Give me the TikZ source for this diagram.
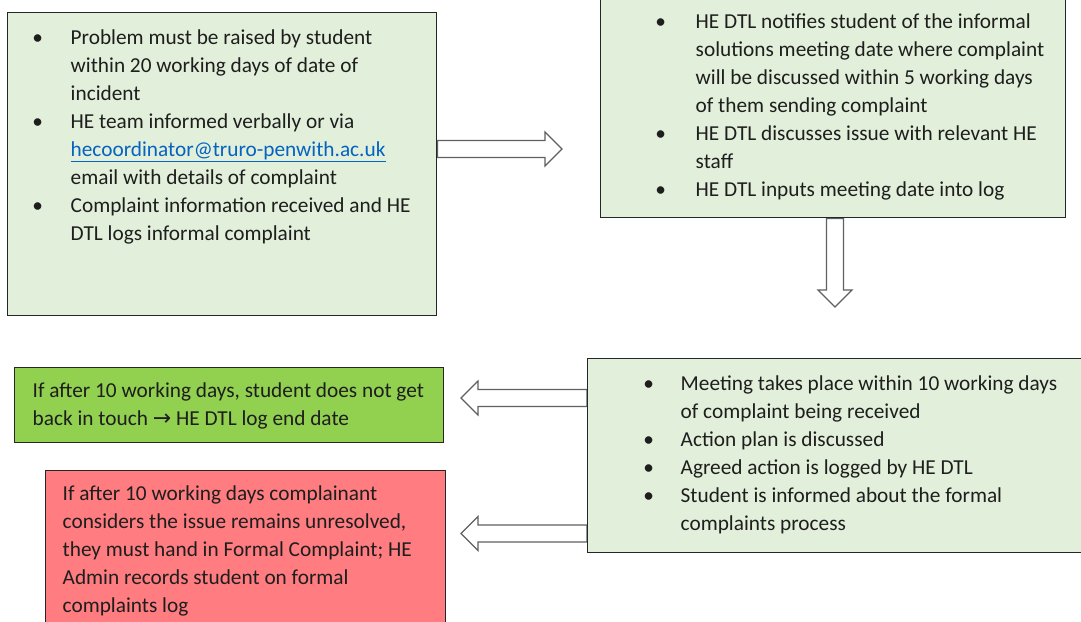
\documentclass[tikz,border=0pt]{standalone}
\usepackage{fontspec}
\setmainfont{Carlito}
\newfontfamily\arrowfont{DejaVu Sans}
\usetikzlibrary{calc,backgrounds}

\definecolor{paleGreen}{HTML}{E2EFDA}
\definecolor{limeGreen}{HTML}{92D050}
\definecolor{salmon}{HTML}{FF7C80}
\definecolor{linkBlue}{HTML}{0563C1}
\definecolor{edgeGray}{HTML}{262626}
\definecolor{arrowGray}{HTML}{606060}
\definecolor{inkGray}{HTML}{1E1E1E}

% bullet list: #1 = left margin of the text, #2 = bullet-to-text distance
\newenvironment{steplist}[2]{%
  \begin{list}{\textbullet}{%
    \setlength\leftmargin{#1}\setlength\labelwidth{#2}%
    \setlength\labelsep{0pt}\setlength\itemindent{0pt}%
    \setlength\rightmargin{0pt}\setlength\topsep{0pt}%
    \setlength\partopsep{0pt}\setlength\itemsep{0pt}\setlength\parsep{0pt}%
    \renewcommand\makelabel[1]{\makebox[#2][l]{\makebox[0pt][c]{##1}}}}%
  \raggedright}{\end{list}}

% box body: width, height, top padding, content
\newcommand\boxbody[4]{\parbox[t][#2][t]{#1}{\vspace*{#3}#4}}

\newcommand\maillink{{\color{linkBlue}\underline{hecoordinator@truro-penwith.ac.uk}}}
\newcommand\thenarrow{{\arrowfont\fontsize{22}{28}\selectfont →}}

% hollow block arrow from #1 (tail) to #2 (tip)
\newcommand\blockarrow[2]{%
  \coordinate (ba-base) at ($(#2)!17pt!(#1)$);
  \draw[blockarrow] ($(#1)!8.5pt!90:(#2)$) -- ($(ba-base)!8.5pt!-90:(#1)$)
    -- ($(ba-base)!17pt!-90:(#1)$) -- (#2) -- ($(ba-base)!17pt!90:(#1)$)
    -- ($(ba-base)!8.5pt!90:(#1)$) -- ($(#1)!8.5pt!-90:(#2)$) -- cycle;}

\tikzset{
  stepbox/.style={draw=edgeGray, line width=1.4pt, inner sep=0pt,
    anchor=north west, text=inkGray, font=\fontsize{21.3}{28}\selectfont},
  infobox/.style={stepbox, fill=paleGreen},
  okbox/.style={stepbox, fill=limeGreen},
  escbox/.style={stepbox, fill=salmon},
  blockarrow/.style={draw=arrowGray, fill=white, line width=1.2pt, line join=miter},
}

\begin{document}
\begin{tikzpicture}[x=1pt, y=-1pt]
\useasboundingbox (0,0) rectangle (1081,621);

% reporting the problem
\node[infobox] (report) at (7,12) {\boxbody{429pt}{303pt}{12.4pt}{%
  \begin{steplist}{63pt}{33pt}
  \item \strut Problem must be raised by student\\ within 20 working days of date of\\ incident
  \item HE team informed verbally or via\\ \maillink\\ email with details of complaint
  \item Complaint information received and HE\\ DTL logs informal complaint
  \end{steplist}}};

% notification of the meeting
\node[infobox] (notify) at (600,-4) {\boxbody{465pt}{221pt}{12.4pt}{%
  \begin{steplist}{95pt}{35pt}
  \item \strut HE DTL notifies student of the informal\\ solutions meeting date where complaint\\ will be discussed within 5 working days\\ of them sending complaint
  \item HE DTL discusses issue with relevant HE\\ staff
  \item HE DTL inputs meeting date into log
  \end{steplist}}};

% the meeting itself
\node[infobox] (meeting) at (587,358) {\boxbody{503pt}{194pt}{12.4pt}{%
  \begin{steplist}{93pt}{32pt}
  \item \strut Meeting takes place within 10 working days\\ of complaint being received
  \item Action plan is discussed
  \item Agreed action is logged by HE DTL
  \item Student is informed about the formal\\ complaints process
  \end{steplist}}};

% outcomes
\node[okbox] (closed) at (14,367) {\boxbody{429pt}{75pt}{10.2pt}{%
  \begin{steplist}{18pt}{0pt}
  \item[] \strut If after 10 working days, student does not get\\ back in touch \thenarrow{} HE DTL log end date
  \end{steplist}}};

\node[escbox] (formal) at (45,470) {\boxbody{400pt}{160pt}{10.2pt}{%
  \begin{steplist}{17pt}{0pt}
  \item[] \strut If after 10 working days complainant\\ considers the issue remains unresolved,\\ they must hand in Formal Complaint; HE\\ Admin records student on formal\\ complaints log
  \end{steplist}}};

% connectors
\coordinate (tipA) at (562,149);
\coordinate (tipB) at (835,307);
\coordinate (tipC) at (461,398);
\coordinate (tipD) at (461,533.5);
\begin{scope}[on background layer]
  \blockarrow{report.east |- tipA}{tipA}
  \blockarrow{notify.south -| tipB}{tipB}
  \blockarrow{meeting.west |- tipC}{tipC}
  \blockarrow{meeting.west |- tipD}{tipD}
\end{scope}
\end{tikzpicture}
\end{document}
